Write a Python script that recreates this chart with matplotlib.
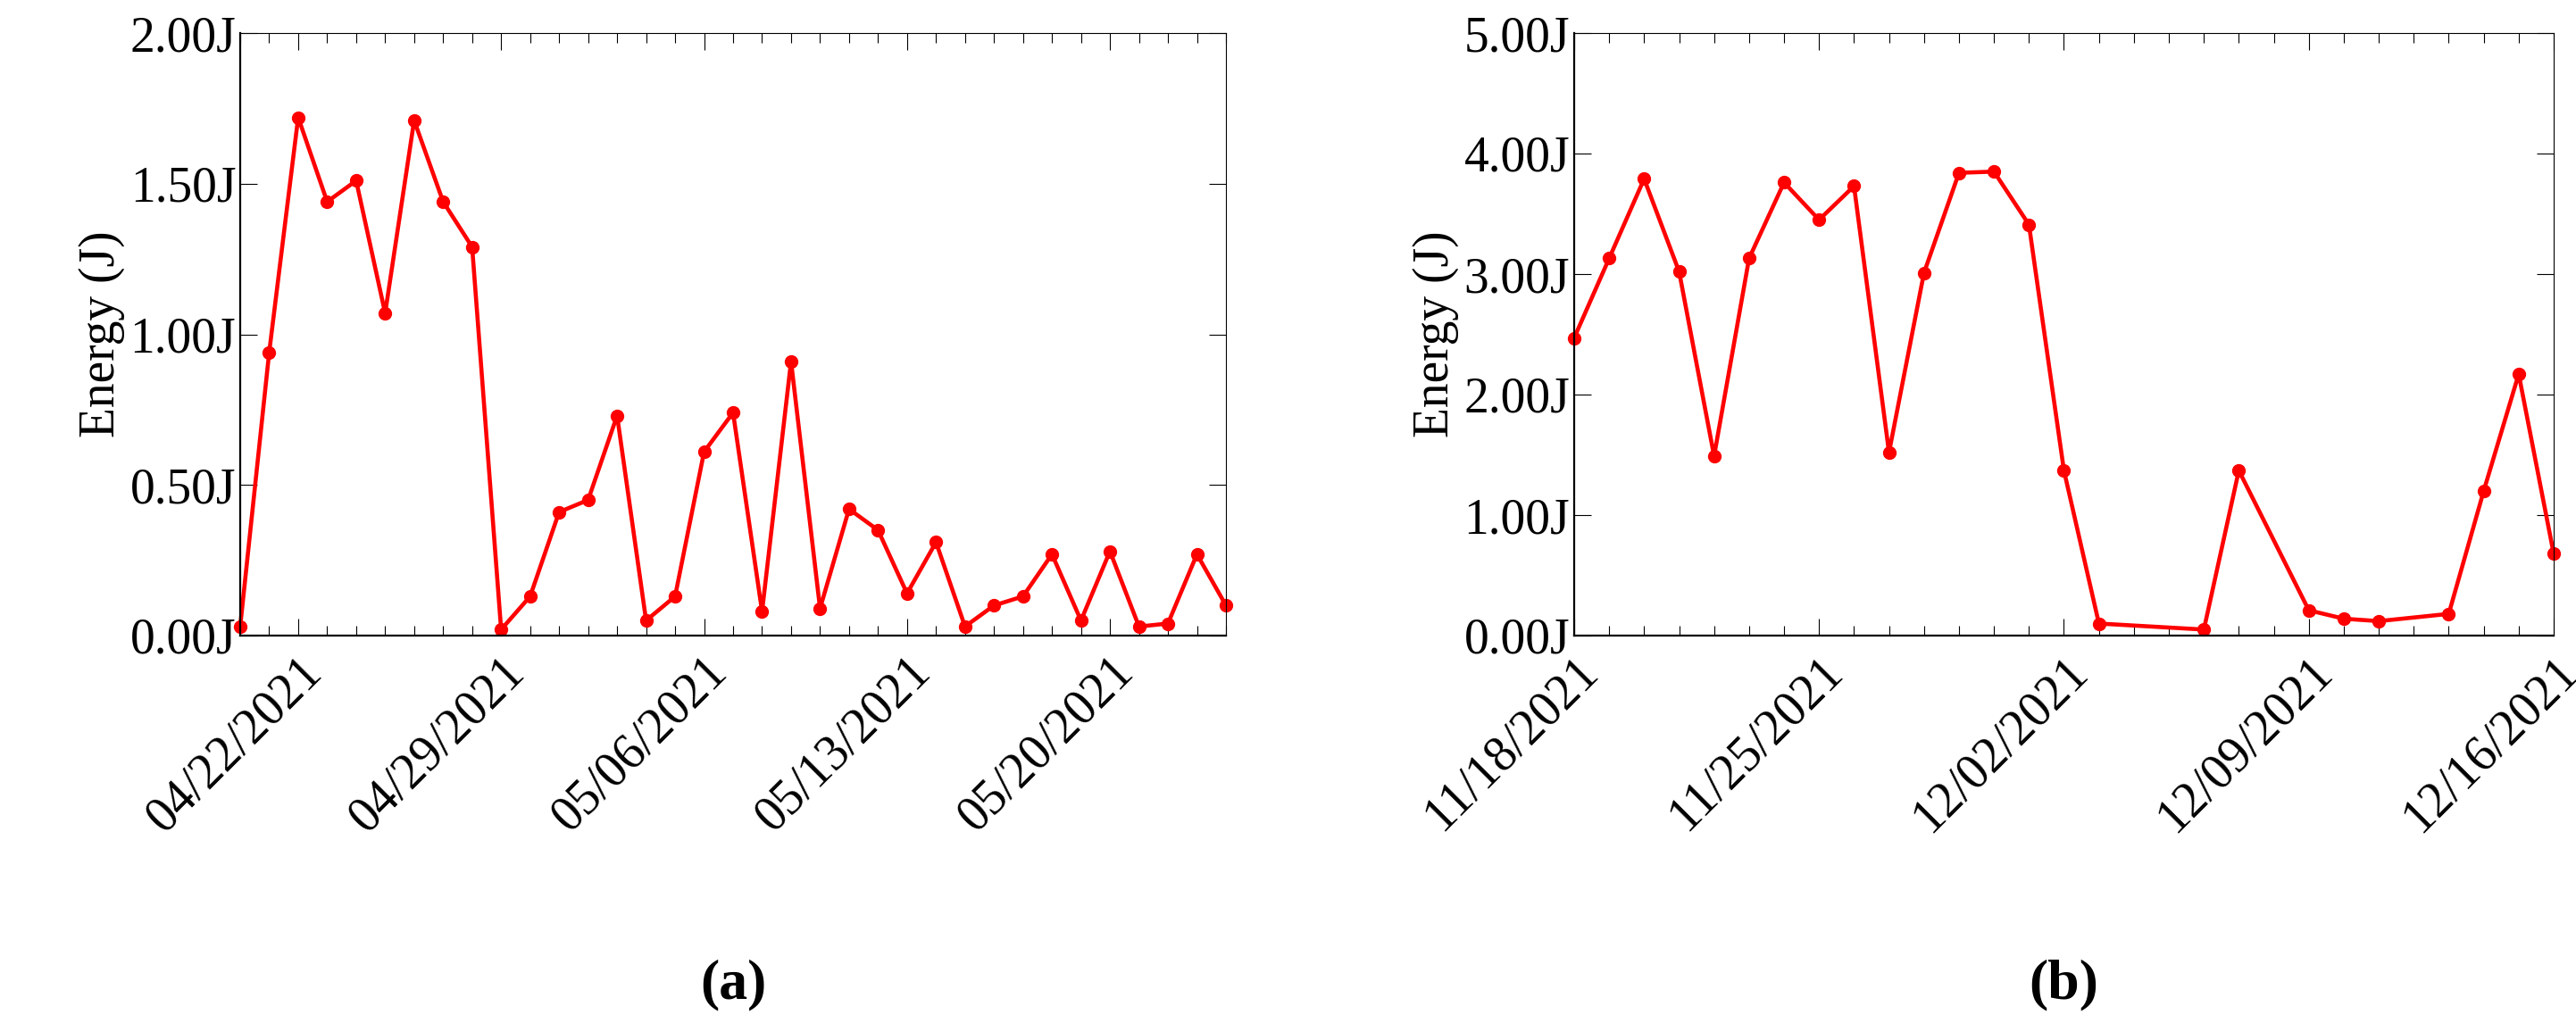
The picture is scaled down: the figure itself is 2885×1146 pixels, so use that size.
import matplotlib
matplotlib.use("Agg")
import matplotlib.pyplot as plt
import matplotlib.dates as mdates
import numpy as np
import pandas as pd

# Panel (a)
dates_a = pd.date_range("2021-04-20", "2021-05-24", freq="D")
energy_a = [0.03, 0.94, 1.72, 1.44, 1.51, 1.07, 1.71, 1.44, 1.29, 0.02,
            0.13, 0.41, 0.45, 0.73, 0.05, 0.13, 0.61, 0.74, 0.08, 0.91,
            0.09, 0.42, 0.35, 0.14, 0.31, 0.03, 0.10, 0.13, 0.27, 0.05,
            0.28, 0.03, 0.04, 0.27, 0.10]
ticks_a = ["2021-04-22", "2021-04-29", "2021-05-06", "2021-05-13", "2021-05-20"]
yticks_a = [0, 0.5, 1.0, 1.5, 2.0]

# Panel (b)
dates_b = pd.to_datetime(
    ["2021-11-18", "2021-11-19", "2021-11-20", "2021-11-21", "2021-11-22", "2021-11-23",
     "2021-11-24", "2021-11-25", "2021-11-26", "2021-11-27", "2021-11-28", "2021-11-29",
     "2021-11-30", "2021-12-01", "2021-12-02", "2021-12-03", "2021-12-06", "2021-12-07",
     "2021-12-09", "2021-12-10", "2021-12-11", "2021-12-13", "2021-12-14", "2021-12-15",
     "2021-12-16"])
energy_b = [2.47, 3.13, 3.79, 3.02, 1.49, 3.13, 3.76, 3.45, 3.73, 1.52, 3.01, 3.84,
            3.85, 3.41, 1.37, 0.10, 0.05, 1.37, 0.21, 0.14, 0.12, 0.18, 1.20, 2.17, 0.68]
ticks_b = ["2021-11-18", "2021-11-25", "2021-12-02", "2021-12-09", "2021-12-16"]
yticks_b = [0, 1, 2, 3, 4, 5]

plt.rcParams["font.family"] = ["Liberation Serif", "DejaVu Serif"]
fig = plt.figure(figsize=(28.85, 11.46), dpi=100)
ax1 = fig.add_axes([269/2885, 1 - 712/1146, (1373-269)/2885, (712-37)/1146])
ax2 = fig.add_axes([1763/2885, 1 - 712/1146, (2860-1763)/2885, (712-37)/1146])

FS = 40

def style(ax, dates, vals, ticks, yticks, x0, x1, ymax, label):
    ax.plot(dates, vals, color="#ff0000", lw=3.3, marker="o", ms=10, clip_on=False)
    ax.set_xlim(pd.Timestamp(x0), pd.Timestamp(x1))
    ax.set_ylim(0, ymax)
    ax.set_xticks(pd.to_datetime(ticks))
    ax.set_xticklabels([pd.Timestamp(t).strftime("%m/%d/%Y") for t in ticks],
                       rotation=45, ha="right", rotation_mode="anchor", fontsize=FS)
    ax.xaxis.set_minor_locator(mdates.DayLocator())
    ax.set_yticks(yticks)
    ax.set_yticklabels([f"{v:.2f}J" for v in yticks], fontsize=FS)
    ax.tick_params(which="both", direction="in", top=True, right=True)
    ax.tick_params(which="major", length=14, width=0.8)
    ax.tick_params(which="minor", length=8, width=0.8)
    ax.tick_params(axis="x", pad=10)
    ax.set_ylabel("Energy (J)", fontsize=FS)
    for s in ax.spines.values():
        s.set_linewidth(0.8)
        if s.spine_type in ("bottom", "left"):
            s.set_linewidth(1.6)
    ax.text(0.5, -0.58, label, transform=ax.transAxes, ha="center", va="center",
            fontsize=46, fontweight="bold")

style(ax1, dates_a, energy_a, ticks_a, yticks_a, "2021-04-20", "2021-05-24", 2.0, "(a)")
style(ax2, dates_b, energy_b, ticks_b, yticks_b, "2021-11-18", "2021-12-16", 5.0, "(b)")

fig.savefig("out.png", dpi=100)
